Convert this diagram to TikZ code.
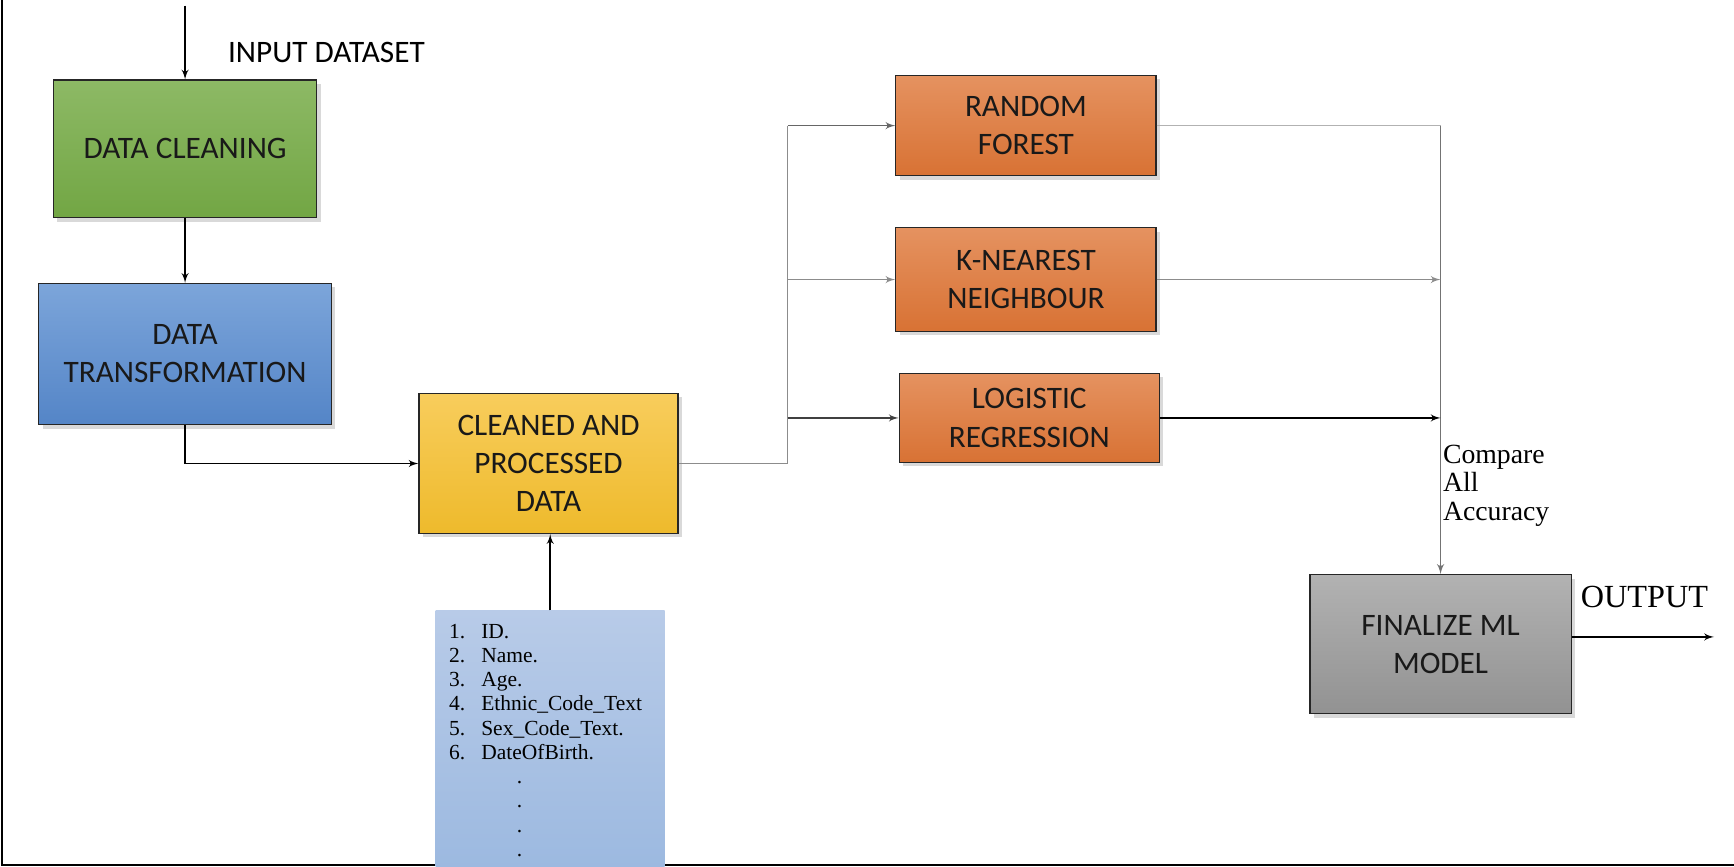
\documentclass[tikz,border=0pt]{standalone}
\usepackage{fontspec}
\setmainfont{Liberation Serif}
\newfontfamily\calibri{Carlito}
\usetikzlibrary{shapes,arrows,shadows,calc}

\definecolor{greentop}{RGB}{141,185,101}
\definecolor{greenbot}{RGB}{114,166,68}
\definecolor{bluetop}{RGB}{124,165,218}
\definecolor{bluebot}{RGB}{84,133,199}
\definecolor{yellowtop}{RGB}{248,205,92}
\definecolor{yellowbot}{RGB}{238,186,44}
\definecolor{orangetop}{RGB}{229,146,96}
\definecolor{orangebot}{RGB}{216,114,52}
\definecolor{graytop}{RGB}{178,178,178}
\definecolor{graybot}{RGB}{146,146,146}
\definecolor{listtop}{RGB}{184,203,232}
\definecolor{listbot}{RGB}{156,185,224}

\tikzstyle{block} = [rectangle, draw=black!85, line width=0.6pt, align=center, text=black!90,
    font={\calibri\fontsize{16}{19.5}\selectfont},
    drop shadow={shadow xshift=2pt, shadow yshift=-2pt, opacity=0.3}]
\tikzstyle{model} = [block, top color=orangetop, bottom color=orangebot, minimum width=46.8mm]
\tikzstyle{line} = [draw, line width=0.75pt, -latex']
\tikzstyle{wire} = [draw, line width=0.6pt, black!45]

\begin{document}
\begin{tikzpicture}[x=0.2mm, y=-0.2mm]
		\useasboundingbox (0,0) rectangle (1560,780);
		\draw [line width=1.2pt] (2,0) -- (2,778) -- (1560,778);

		\node [block, top color=greentop, bottom color=greenbot, minimum width=47.4mm, minimum height=24.8mm] (clean) at (166.5,134) {DATA CLEANING};
		\node [block, top color=bluetop, bottom color=bluebot, minimum width=52.6mm, minimum height=25.4mm] (trans) at (166.5,318.5) {DATA\\TRANSFORMATION};
		\node [block, top color=yellowtop, bottom color=yellowbot, minimum width=46.6mm, minimum height=25.2mm] (proc) at (493.5,417) {CLEANED AND\\PROCESSED\\DATA};
		\node [model, minimum height=18mm] (rf) at (923,113) {RANDOM\\FOREST};
		\node [model, minimum height=18.6mm] (knn) at (923,251.5) {K-NEAREST\\NEIGHBOUR};
		\node [model, minimum height=16mm] (lr) at (926,376) {LOGISTIC\\REGRESSION};
		\node [block, top color=graytop, bottom color=graybot, minimum width=47mm, minimum height=25mm] (final) at (1296,579.5) {FINALIZE ML\\MODEL};
		\node [rectangle, top color=listtop, bottom color=listbot, minimum height=45.6mm, inner sep=2.4mm, text width=36.4mm, align=left,
			font=\fontsize{11}{12.4}\selectfont] (attr) at (495,666) {%
			\makebox[5.8mm][l]{1.}ID.\\
			\makebox[5.8mm][l]{2.}Name.\\
			\makebox[5.8mm][l]{3.}Age.\\
			\makebox[5.8mm][l]{4.}Ethnic\_Code\_Text\\
			\makebox[5.8mm][l]{5.}Sex\_Code\_Text.\\
			\makebox[5.8mm][l]{6.}DateOfBirth.\\
			\hspace*{12.2mm}.\\
			\hspace*{12.2mm}.\\
			\hspace*{12.2mm}.\\
			\hspace*{12.2mm}.};

		\coordinate (source) at (166.5,5);
		\node [anchor=west, font={\calibri\fontsize{16}{19}\selectfont}] (inlabel) at (199,47) {INPUT DATASET};
		\path [line] (source) -- (clean.north);
		\path [line] (clean) -- (trans);
		\path [line] (trans.south) |- (proc.west);
		\path [line] (attr.north) -- (attr.north |- proc.south);

		\coordinate (split) at ($(proc.east)+(98,0)$);
		\path [wire] (proc.east) -- (split) -- (split |- rf.west);
		\path [line, black!60] (split |- rf.west) -- (rf.west);
		\path [line, black!45] (split |- knn.west) -- (knn.west);
		\path [line, black!75] (split |- lr.west) -- (lr.west);

		\coordinate (merge) at (final.north |- rf.east);
		\path [wire, black!30] (rf.east) -- (merge);
		\path [line, black!55, line width=0.8pt] (merge) -- (final.north);
		\path [line, black!45] (knn.east) -- (knn.east -| final.north);
		\path [line] (lr.east) -- (lr.east -| final.north);
		\node [anchor=west, align=left, inner sep=0.5pt, font=\fontsize{14.2}{14.5}\selectfont] (compare) at (1297,437) {Compare\\All\\Accuracy};

		\coordinate (sink) at (1542,573);
		\path [line] (final.east |- sink) -- (sink);
		\node [anchor=west, font=\fontsize{16.5}{18}\selectfont] (outlabel) at (1416,537) {OUTPUT};
	\end{tikzpicture}
\end{document}
